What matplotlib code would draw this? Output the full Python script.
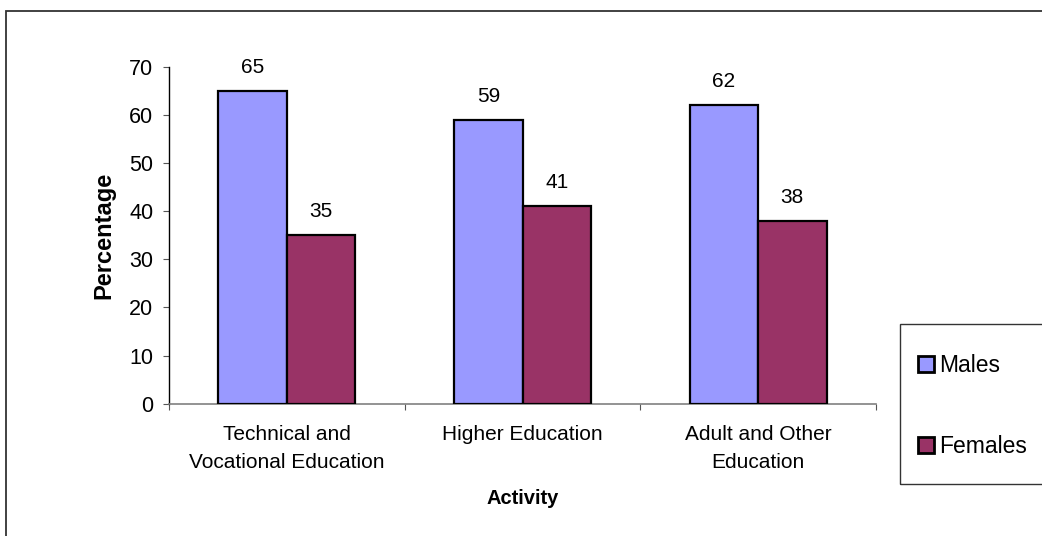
import matplotlib
matplotlib.use("Agg")
import matplotlib.pyplot as plt
from matplotlib.patches import Rectangle, Patch
import numpy as np

plt.rcParams["font.family"] = ["Liberation Sans", "DejaVu Sans"]

categories = ["Technical and\nVocational Education", "Higher Education", "Adult and Other\nEducation"]
males = [65, 59, 62]
females = [35, 41, 38]
series_names = ["Males", "Females"]
colors = ["#9999FF", "#993366"]
yticks = [0, 10, 20, 30, 40, 50, 60, 70]

W, H = 1042, 536
fig = plt.figure(figsize=(W / 100, H / 100), dpi=100)
fig.patch.set_facecolor("white")

def fx(px):
    return px / W

def fy(py):
    return 1 - py / H

# outer chart-area border
fig.patches.append(Rectangle((fx(6), fy(560)), fx(1060) - fx(6), fy(11) - fy(560),
                             transform=fig.transFigure, fill=False,
                             edgecolor="#333333", linewidth=1.3, zorder=0))

ax = fig.add_axes([fx(169), fy(403.7), fx(876) - fx(169), fy(66.7) - fy(403.7)])

x = np.arange(len(categories))
bw = 0.29
b1 = ax.bar(x - bw / 2, males, bw, color=colors[0], edgecolor="black", linewidth=1.6, zorder=3)
b2 = ax.bar(x + bw / 2, females, bw, color=colors[1], edgecolor="black", linewidth=1.6, zorder=3)

for bars, vals in ((b1, males), (b2, females)):
    for rect, v in zip(bars, vals):
        ax.annotate(f"{v}", (rect.get_x() + rect.get_width() / 2, v),
                    xytext=(0, 17), textcoords="offset points",
                    ha="center", va="center", fontsize=15)

ax.set_xlim(-0.5, len(categories) - 0.5)
ax.set_ylim(0, 70)
ax.set_yticks(yticks)
ax.set_yticklabels([str(t) for t in yticks], fontsize=15.5)
ax.tick_params(axis="y", direction="out", length=4.3, width=0.8, color="#555555", pad=7)

ax.set_xticks(x)
ax.set_xticklabels(categories, fontsize=15, linespacing=1.65)
ax.set_xticks(np.arange(len(categories) + 1) - 0.5, minor=True)
ax.tick_params(axis="x", which="major", length=0, pad=15)
ax.tick_params(axis="x", which="minor", direction="out", length=4.3, width=0.8, color="#555555")

for s in ("top", "right"):
    ax.spines[s].set_visible(False)
ax.spines["left"].set_color("black")
ax.spines["left"].set_linewidth(1.0)
ax.spines["bottom"].set_color("#808080")
ax.spines["bottom"].set_linewidth(1.2)

ax.set_ylabel("Percentage", fontsize=17, fontweight="bold", va="center")
ax.yaxis.set_label_coords((104 - 169) / 707, 0.5)
ax.set_xlabel("Activity", fontsize=14.5, fontweight="bold", va="center")
ax.xaxis.set_label_coords(0.5, (403.7 - 499) / 337)

# legend frame
fig.patches.append(Rectangle((fx(900), fy(484)), fx(1060) - fx(900), fy(324) - fy(484),
                             transform=fig.transFigure, fill=False,
                             edgecolor="#333333", linewidth=1.0, zorder=1))
handles = [Patch(facecolor=c, edgecolor="black", linewidth=2.0) for c in colors]
fig.legend(handles, series_names, loc="upper left",
           bbox_to_anchor=(fx(918), fy(354)), frameon=False, fontsize=16.5,
           handlelength=0.7, handleheight=0.7, handletextpad=0.22,
           labelspacing=2.55, borderpad=0, borderaxespad=0)

fig.savefig("out.png", dpi=100)
